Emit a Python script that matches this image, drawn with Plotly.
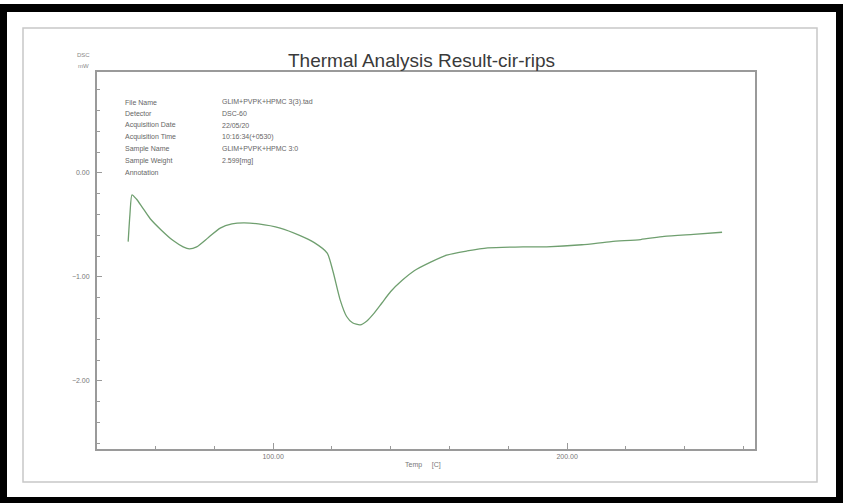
import plotly.graph_objects as go

# DSC heat-flow curve (temperature in °C, heat flow in mW)
temp_c = [50.7, 51.3, 52.0, 53.5, 55.5, 58.2, 62.0, 66.0, 69.4, 71.5, 74.0, 78.0,
          82.0, 86.0, 90.0, 95.0, 102.4, 109.0, 114.0, 118.4, 120.4, 122.8, 125.0,
          127.0, 129.6, 132.0, 134.0, 137.0, 140.0, 144.0, 148.0, 153.4, 159.0,
          166.0, 173.0, 185.0, 193.0, 205.0, 215.0, 225.0, 233.0, 243.0, 252.7]
dsc_mw = [-0.66, -0.40, -0.21, -0.25, -0.33, -0.44, -0.55, -0.65, -0.71, -0.73, -0.71, -0.62,
          -0.53, -0.49, -0.48, -0.49, -0.53, -0.60, -0.67, -0.77, -0.95, -1.22, -1.38,
          -1.44, -1.46, -1.42, -1.36, -1.25, -1.14, -1.03, -0.94, -0.86, -0.79,
          -0.75, -0.72, -0.71, -0.71, -0.69, -0.66, -0.64, -0.61, -0.59, -0.57]

info_labels = ["File Name", "Detector", "Acquisition Date", "Acquisition Time",
               "Sample Name", "Sample Weight", "Annotation"]
info_values = ["GLIM+PVPK+HPMC 3(3).tad", "DSC-60", "22/05/20", "10:16:34(+0530)",
               "GLIM+PVPK+HPMC 3:0", "2.599[mg]", ""]

W, H = 843, 503
ML, MR, MT, MB = 97, 88, 72, 54
PW, PH = W - ML - MR, H - MT - MB


def px(x):
    return (x - ML) / PW


def py(y):
    return (H - MB - y) / PH


fig = go.Figure()
fig.add_trace(go.Scatter(
    x=temp_c, y=dsc_mw, mode="lines",
    line=dict(color="#6f9f6f", width=1.3, shape="spline", smoothing=0.6),
    hoverinfo="skip", showlegend=False,
))

axis_col = "#9a9a9a"
fig.update_xaxes(
    range=[40.1, 263.9], tick0=0, dtick=100, tickformat=".2f",
    showgrid=False, zeroline=False, showline=True, linecolor=axis_col, linewidth=2,
    mirror=True, ticks="inside", ticklen=6, tickcolor=axis_col,
    tickfont=dict(family="Liberation Sans", size=7, color="#777"),
    minor=dict(dtick=20, ticks="inside", ticklen=3, tickcolor=axis_col),
)
fig.update_yaxes(
    range=[-2.654, 0.971], tick0=0, dtick=1, tickformat=".2f",
    showgrid=False, zeroline=False, showline=True, linecolor=axis_col, linewidth=2,
    mirror=True, ticks="inside", ticklen=5, tickcolor=axis_col,
    tickfont=dict(family="Liberation Sans", size=7, color="#777"),
    ticklabelstandoff=4,
    minor=dict(dtick=0.2, ticks="inside", ticklen=3, tickcolor=axis_col),
)

shapes = [
    # outer black frame
    dict(type="rect", xref="paper", yref="paper", x0=px(0), x1=px(7), y0=py(503), y1=py(4),
         fillcolor="black", line_width=0, layer="below"),
    dict(type="rect", xref="paper", yref="paper", x0=px(836), x1=px(843), y0=py(503), y1=py(4),
         fillcolor="black", line_width=0, layer="below"),
    dict(type="rect", xref="paper", yref="paper", x0=px(0), x1=px(843), y0=py(12), y1=py(4),
         fillcolor="black", line_width=0, layer="below"),
    dict(type="rect", xref="paper", yref="paper", x0=px(0), x1=px(843), y0=py(503), y1=py(497),
         fillcolor="black", line_width=0, layer="below"),
    # inner light frame
    dict(type="rect", xref="paper", yref="paper", x0=px(23), x1=px(817), y0=py(482), y1=py(28),
         line=dict(color="#c8c8c8", width=1.5), fillcolor="rgba(0,0,0,0)", layer="below"),
]

annotations = [
    dict(text="Thermal Analysis Result-cir-rips", x=px(421), y=py(60), xref="paper", yref="paper",
         showarrow=False, xanchor="center", yanchor="middle",
         font=dict(family="Liberation Sans", size=19, color="#3a3a3a")),
    dict(text="DSC", x=px(83), y=py(55), xref="paper", yref="paper", showarrow=False,
         xanchor="center", yanchor="middle", font=dict(family="Liberation Sans", size=6, color="#888")),
    dict(text="mW", x=px(83), y=py(66), xref="paper", yref="paper", showarrow=False,
         xanchor="center", yanchor="middle", font=dict(family="Liberation Sans", size=6, color="#888")),
    dict(text="Temp&nbsp;&nbsp;&nbsp;&nbsp;&nbsp;[C]", x=px(423), y=py(465), xref="paper", yref="paper",
         showarrow=False, xanchor="center", yanchor="middle",
         font=dict(family="Liberation Sans", size=7, color="#777")),
]

for i, (lab, val) in enumerate(zip(info_labels, info_values)):
    yy = 102 + i * 11.7
    annotations.append(dict(text=lab, x=px(123), y=py(yy), xref="paper", yref="paper",
                            showarrow=False, xanchor="left", yanchor="middle",
                            font=dict(family="Liberation Sans", size=7, color="#666")))
    if val:
        annotations.append(dict(text=val, x=px(220), y=py(yy), xref="paper", yref="paper",
                                showarrow=False, xanchor="left", yanchor="middle",
                                font=dict(family="Liberation Sans", size=7, color="#666")))

fig.update_layout(
    width=W, height=H,
    margin=dict(l=ML, r=MR, t=MT, b=MB),
    paper_bgcolor="white", plot_bgcolor="white",
    shapes=shapes, annotations=annotations,
    showlegend=False,
)

fig.write_html("out.html")
